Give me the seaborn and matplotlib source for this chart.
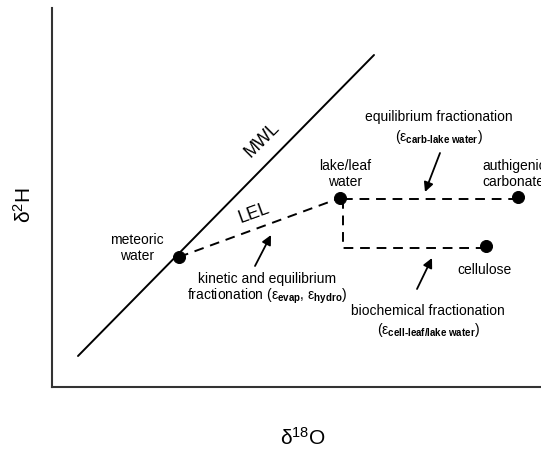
import matplotlib
matplotlib.use("Agg")
import matplotlib.pyplot as plt
import seaborn as sns
import pandas as pd

# ---- data (conceptual diagram units: x = d18O, y = d2H) ----
point_names = ["meteoric water", "lake/leaf water", "authigenic carbonate", "cellulose"]
point_x = [127, 288, 466, 434]
point_y = [130, 189, 190, 141]

mwl_x = [26, 322]
mwl_y = [31, 332]

lel_x = [127, 288]
lel_y = [130, 189]

carb_path_x = [291, 466]
carb_path_y = [188, 188]

cell_path_x = [291, 291, 434]
cell_path_y = [188, 139, 139]

# arrows: (tail_x, tail_y, head_x, head_y)
arrow_kinetic = [203, 121, 219, 152]
arrow_equil = [388, 234, 373, 195]
arrow_bio = [365, 98, 380, 129]

sns.set_style("white")
plt.rcParams["font.family"] = ["Liberation Sans", "DejaVu Sans"]
plt.rcParams["text.color"] = "black"
plt.rcParams["mathtext.fontset"] = "custom"
plt.rcParams["mathtext.rm"] = "Liberation Sans"
plt.rcParams["mathtext.it"] = "Liberation Sans:italic"
plt.rcParams["mathtext.bf"] = "Liberation Sans:bold"

fig = plt.figure(figsize=(5.41, 4.49), dpi=100)
ax = fig.add_axes([52/541, 1 - 387/449, 489/541, 379/449])

ax.set_xlim(0, 489)
ax.set_ylim(0, 379)

sns.lineplot(x=mwl_x, y=mwl_y, ax=ax, color="black", linewidth=1.4)
sns.lineplot(x=lel_x, y=lel_y, ax=ax, color="black", linewidth=1.4,
             linestyle=(0, (5, 3.5)))
sns.lineplot(x=carb_path_x, y=carb_path_y, ax=ax, color="black", linewidth=1.4,
             linestyle=(0, (5, 3.5)))
ax.plot(cell_path_x, cell_path_y, color="black", linewidth=1.4,
        linestyle=(0, (5, 3.5)))

df = pd.DataFrame({"x": point_x, "y": point_y, "name": point_names})
sns.scatterplot(data=df, x="x", y="y", ax=ax, color="black", s=75,
                edgecolor="black", zorder=5, legend=False)

for a in [arrow_kinetic, arrow_equil, arrow_bio]:
    ax.annotate("", xy=(a[2], a[3]), xytext=(a[0], a[1]),
                arrowprops=dict(arrowstyle="-|>", color="black", lw=1.3,
                                mutation_scale=14, shrinkA=0, shrinkB=0))

fs = 10
ax.text(85, 139, "meteoric\nwater", ha="center", va="center", fontsize=fs,
        linespacing=1.2)
ax.text(293, 213, "lake/leaf\nwater", ha="center", va="center", fontsize=fs,
        linespacing=1.2)
ax.text(430, 213, "authigenic\ncarbonate", ha="left", va="center", fontsize=fs,
        linespacing=1.2, clip_on=False)
ax.text(432, 117, "cellulose", ha="center", va="center", fontsize=fs)

ax.text(215, 108, "kinetic and equilibrium", ha="center", va="center", fontsize=fs)
ax.text(215, 91, r"fractionation (ε$_{\mathbf{evap}}$, ε$_{\mathbf{hydro}}$)",
        ha="center", va="center", fontsize=fs)

ax.text(387, 270, "equilibrium fractionation", ha="center", va="center", fontsize=fs)
ax.text(387, 250, r"(ε$_{\mathbf{carb‐lake\ water}}$)", ha="center", va="center",
        fontsize=fs)

ax.text(376, 76, "biochemical fractionation", ha="center", va="center", fontsize=fs)
ax.text(376, 57, r"(ε$_{\mathbf{cell‐leaf/lake\ water}}$)", ha="center",
        va="center", fontsize=fs)

ax.text(202, 174, "LEL", ha="center", va="center", fontsize=13, rotation=20)
ax.text(210, 247, "MWL", ha="center", va="center", fontsize=13, rotation=45)

fig.text(24/541, 1 - 205/449, r"δ$^{2}$H", rotation=90, ha="center",
         va="center", fontsize=15)
fig.text(303/541, 1 - 438/449, r"δ$^{18}$O", ha="center", va="center",
         fontsize=15)

for side in ["top", "right"]:
    ax.spines[side].set_visible(False)
for side in ["left", "bottom"]:
    ax.spines[side].set_color("#333333")
    ax.spines[side].set_linewidth(1.5)
ax.set_xticks([])
ax.set_yticks([])
ax.set_xlabel("")
ax.set_ylabel("")

fig.savefig("out.png", dpi=100)
